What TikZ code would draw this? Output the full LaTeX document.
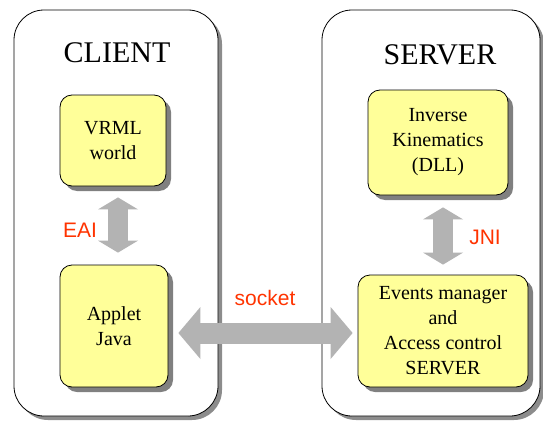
\documentclass[tikz,border=0pt]{standalone}
\usepackage{fontspec}
\setmainfont{Liberation Serif}
\newfontfamily\arialfont{Liberation Sans}
\usetikzlibrary{arrows.meta}
\usetikzlibrary{shadows}
\definecolor{boxyellow}{RGB}{255,255,153}
\definecolor{labelred}{RGB}{255,51,0}
\definecolor{arrowgray}{RGB}{179,179,179}

\begin{document}
\begin{tikzpicture}[x=1pt,y=-1pt,
    panel node/.style={draw,rounded corners=30pt,fill=white,line width=0.8pt,
      drop shadow={shadow xshift=4pt,shadow yshift=-4pt,fill=black!45,opacity=1},
      minimum width=204pt,minimum height=406pt},
    title node/.style={font=\fontsize{30}{36}\selectfont},
    box node/.style={draw,rounded corners=12pt,fill=boxyellow,line width=0.8pt,
      drop shadow={shadow xshift=5pt,shadow yshift=-5pt,fill=black!50,opacity=1},
      align=center,font=\fontsize{20}{25}\selectfont,inner sep=0pt},
    label node/.style={text=labelred,font=\arialfont\fontsize{21}{25}\selectfont},
    small arrow/.style={draw=arrowgray,line width=20pt,
      {Triangle[length=12pt,width=40pt,line width=0pt]}-{Triangle[length=12pt,width=40pt,line width=0pt]}},
    big arrow/.style={draw=arrowgray,line width=21pt,
      {Triangle[length=22pt,width=52pt,line width=0pt]}-{Triangle[length=22pt,width=52pt,line width=0pt]}}]
  \useasboundingbox (0,0) rectangle (543,420);
  % the two sides
  \node[panel node] (client) at (116,213) {};
  \node[panel node,minimum width=218pt] (server) at (431,213) {};
  \node[title node] (clienttitle) at (117,53) {CLIENT};
  \node[title node] (servertitle) at (440,55) {SERVER};
  % client boxes
  \node[box node,minimum width=106pt,minimum height=91pt] (vrml) at (113,140.5) {VRML\\world};
  \node[box node,minimum width=108pt,minimum height=122pt] (applet) at (114,326) {Applet\\Java};
  % server boxes
  \node[box node,minimum width=140pt,minimum height=105pt] (ik) at (438,142.5) {Inverse\\Kinematics\\(DLL)};
  \node[box node,minimum width=170pt,minimum height=112pt] (events) at (443,331) {Events manager\\and\\Access control\\SERVER};
  % labels
  \node[label node] (eai) at (80,230) {EAI};
  \node[label node] (jni) at (485,237) {JNI};
  \node[label node] (socket) at (265,298) {socket};
  % arrows
  \draw[small arrow,shorten <=11pt,shorten >=12pt] ([xshift=5pt]vrml.south) -- ([xshift=4pt]applet.north);
  \draw[small arrow,shorten <=12pt,shorten >=10pt] ([xshift=5pt]ik.south) -- (events.north);
  \draw[big arrow,shorten <=10pt,shorten >=5pt] ([yshift=-7pt]applet.east) -- ([yshift=-2pt]events.west);
  %\draw[big arrow] (applet) -- (events);
\end{tikzpicture}
\end{document}
